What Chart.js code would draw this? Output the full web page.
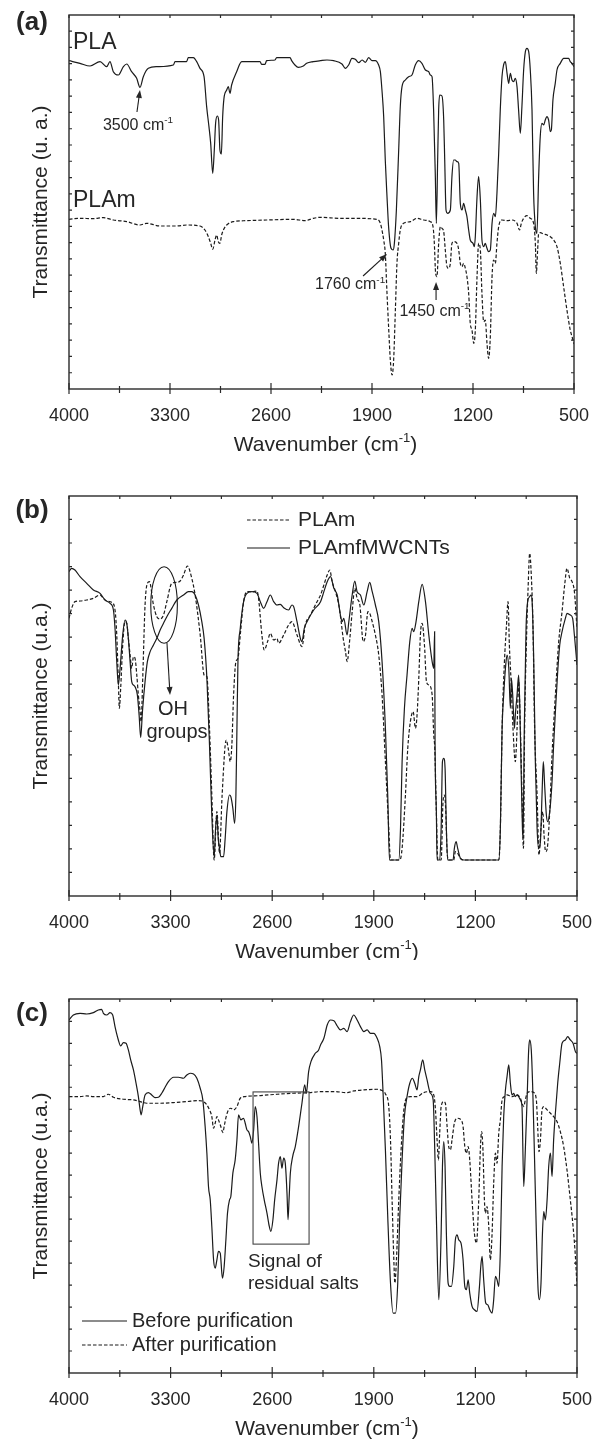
<!DOCTYPE html>
<html>
<head>
<meta charset="utf-8">
<title>FTIR spectra</title>
<script src="https://cdn.jsdelivr.net/npm/chart.js@4.4.0/dist/chart.umd.min.js"></script>
<style>
    html, body { margin: 0; padding: 0; background: #fff; }
    .page { position: relative; width: 601px; height: 1442px; overflow: hidden; }
    .page canvas { position: absolute; left: 0; }
</style>
</head>
<body>
<div class="page">
    <canvas id="panelA" width="601" height="480" style="top:0px"></canvas>
    <canvas id="panelB" width="601" height="480" style="top:480px"></canvas>
    <canvas id="panelC" width="601" height="482" style="top:960px"></canvas>
</div>
<script>
// Axis ticks (wavenumber, cm-1)
const xMajorTicks = [4000, 3300, 2600, 1900, 1200, 500];
const xMinorTicks = [3650, 2950, 2250, 1550, 850];

// Panel (a): [wavenumber, transmittance (a.u.)]
const plaPoints = [[4000,98.5],[3924,97.7],[3854,96.9],[3785,98.2],[3739,96.7],[3716,98.2],[3693,95.2],[3658,94.2],[3623,96.7],[3600,97.5],[3566,95.2],[3531,93.2],[3508,90.5],[3485,93.7],[3450,96.2],[3392,96.7],[3277,97.2],[3265,98.2],[3185,98.2],[3173,99.4],[3138,99.4],[3115,98.2],[3092,96.2],[3064,93.7],[3046,84.7],[3030,78.7],[3018,73.7],[3004,64.7],[2993,71.7],[2984,79.7],[2972,81.9],[2963,80.7],[2954,71.7],[2944,70.5],[2935,81.7],[2926,87.2],[2907,89.7],[2896,90.7],[2884,88.7],[2873,91.2],[2838,95.2],[2803,98.2],[2676,98.2],[2665,97.4],[2642,97.4],[2630,98.5],[2572,98.7],[2561,99.4],[2468,99.4],[2457,98.5],[2434,97.2],[2411,96.5],[2376,96.9],[2353,97.7],[2307,98.2],[2258,98.5],[2212,98.7],[2166,98.5],[2108,97.5],[2085,96.2],[2062,97.2],[2039,99.2],[2016,98.9],[1992,97.9],[1969,98.7],[1946,98.0],[1923,99.4],[1900,98.5],[1877,98.5],[1854,97.2],[1842,95.2],[1831,89.7],[1819,81.7],[1808,68.7],[1796,57.7],[1785,48.7],[1768,42.2],[1754,41.7],[1745,43.7],[1731,53.7],[1715,71.7],[1704,84.7],[1692,90.7],[1669,92.7],[1646,93.7],[1623,94.2],[1600,97.2],[1577,98.5],[1554,97.7],[1530,95.7],[1507,95.2],[1496,94.2],[1484,93.7],[1473,83.7],[1461,63.7],[1454,49.7],[1445,68.7],[1438,83.7],[1431,88.2],[1415,87.9],[1403,80.7],[1396,68.7],[1387,53.7],[1376,52.7],[1357,53.7],[1346,63.7],[1334,68.7],[1323,68.7],[1311,68.2],[1299,67.7],[1288,55.7],[1276,53.7],[1265,55.7],[1253,53.7],[1242,51.7],[1230,47.7],[1219,44.7],[1200,43.7],[1191,42.7],[1184,45.7],[1172,57.7],[1161,63.7],[1149,56.7],[1138,44.7],[1126,42.7],[1115,43.7],[1103,42.2],[1092,41.2],[1080,41.7],[1068,49.7],[1057,52.7],[1045,51.7],[1034,58.7],[1022,70.7],[1011,83.7],[999,93.7],[988,97.2],[976,98.2],[964,94.7],[953,91.7],[941,94.7],[930,92.7],[918,92.2],[907,93.2],[895,90.7],[884,83.7],[872,76.7],[861,84.7],[849,95.7],[837,101.2],[826,102.2],[814,101.2],[803,95.7],[791,83.7],[780,58.7],[768,48.7],[757,46.7],[745,63.7],[734,75.7],[722,79.7],[710,79.2],[699,80.7],[688,81.7],[676,80.7],[664,77.2],[657,77.7],[646,86.7],[630,91.7],[618,95.7],[595,97.7],[572,99.2],[537,99.2],[526,98.2],[514,97.7],[500,96.7]];

const plamPoints = [[4000,50.9],[3924,51.2],[3831,51.1],[3762,51.4],[3693,50.7],[3600,50.2],[3508,49.2],[3462,49.7],[3369,48.9],[3254,48.9],[3185,49.2],[3092,48.9],[3058,47.7],[3034,45.7],[3018,43.7],[3004,41.9],[2988,44.7],[2977,46.2],[2965,44.2],[2954,43.7],[2942,46.2],[2930,47.7],[2907,49.2],[2861,50.2],[2769,50.5],[2630,50.7],[2445,50.9],[2364,50.5],[2307,51.2],[2258,51.5],[2119,51.2],[2027,51.2],[1865,50.9],[1842,49.7],[1831,47.7],[1819,44.7],[1808,40.7],[1796,28.7],[1785,18.7],[1773,8.7],[1761,4.2],[1750,8.7],[1738,23.7],[1727,37.7],[1715,43.7],[1704,47.7],[1681,49.7],[1634,50.2],[1588,51.2],[1542,50.7],[1496,50.2],[1477,48.7],[1468,43.7],[1459,34.7],[1450,33.7],[1438,43.7],[1426,48.7],[1415,48.2],[1403,47.2],[1392,41.7],[1380,36.7],[1369,36.2],[1357,37.7],[1346,43.7],[1334,44.2],[1311,43.7],[1299,41.7],[1288,37.7],[1276,36.7],[1265,37.7],[1253,36.2],[1242,33.7],[1230,28.7],[1219,19.7],[1207,17.7],[1195,13.7],[1184,17.7],[1172,33.7],[1161,43.7],[1149,41.7],[1138,28.7],[1126,20.2],[1115,20.7],[1103,13.7],[1092,9.2],[1080,15.7],[1068,33.7],[1057,38.7],[1045,37.7],[1034,43.7],[1022,48.7],[999,50.7],[964,50.5],[930,50.7],[895,49.7],[877,47.7],[865,49.7],[849,51.2],[826,52.0],[803,51.2],[780,49.7],[768,43.7],[761,34.7],[752,41.7],[745,46.7],[734,46.9],[710,46.5],[687,46.2],[664,45.7],[641,44.7],[618,42.7],[595,37.7],[572,30.7],[549,23.7],[526,17.7],[507,14.7],[500,13.5]];

// Panel (b)
const bPlamPoints = [[4000,83.3],[3982,86.3],[3959,88.3],[3924,88.5],[3878,88.8],[3832,89.3],[3786,90.3],[3763,89.3],[3740,88.5],[3706,88.1],[3683,85.8],[3671,78.3],[3660,64.3],[3653,56.3],[3644,62.3],[3630,75.3],[3614,82.3],[3602,81.8],[3591,77.3],[3579,72.3],[3568,68.3],[3556,71.8],[3545,71.3],[3533,66.3],[3522,60.3],[3510,55.3],[3503,52.3],[3492,65.3],[3476,87.3],[3460,93.8],[3446,94.3],[3418,87.3],[3395,83.8],[3372,83.1],[3349,84.3],[3326,88.3],[3292,93.8],[3257,94.1],[3234,94.5],[3211,96.3],[3184,99.0],[3154,95.3],[3131,90.3],[3096,78.3],[3069,66.3],[3050,65.8],[3032,50.3],[3016,30.3],[3000,10.8],[2981,25.3],[2963,12.8],[2945,30.3],[2917,46.8],[2903,44.3],[2889,40.3],[2878,45.3],[2866,60.3],[2850,70.3],[2836,71.3],[2820,78.3],[2797,88.3],[2774,91.3],[2740,91.3],[2705,91.5],[2694,89.3],[2671,78.3],[2655,73.8],[2632,76.3],[2613,78.8],[2590,76.8],[2567,77.3],[2556,75.8],[2521,78.3],[2487,81.3],[2464,82.3],[2429,78.3],[2395,74.8],[2372,81.3],[2337,84.3],[2291,88.3],[2267,90.3],[2244,93.3],[2221,96.3],[2203,97.8],[2187,94.3],[2164,91.3],[2141,87.3],[2125,82.3],[2111,77.3],[2095,73.3],[2084,70.3],[2065,77.3],[2049,85.3],[2031,92.3],[2015,89.3],[1996,87.3],[1973,76.3],[1957,78.3],[1941,85.3],[1928,84.8],[1911,82.3],[1889,78.3],[1866,72.3],[1843,60.3],[1820,40.3],[1797,20.3],[1785,10.8],[1721,10.8],[1705,14.3],[1682,30.3],[1666,44.3],[1648,52.3],[1629,55.3],[1613,50.3],[1602,54.3],[1590,65.3],[1579,78.3],[1567,81.8],[1551,75.3],[1537,64.3],[1521,63.3],[1498,60.3],[1487,48.3],[1480,44.3],[1469,25.3],[1459,10.8],[1436,10.8],[1423,28.3],[1413,30.3],[1404,25.3],[1395,13.3],[1384,10.8],[1349,10.8],[1338,13.3],[1322,12.8],[1303,11.3],[1280,10.8],[1039,10.8],[1028,20.3],[1016,50.3],[1000,70.3],[987,80.3],[975,88.3],[966,75.3],[954,64.3],[941,50.3],[925,40.3],[913,50.3],[902,64.3],[890,50.3],[879,30.3],[869,14.3],[861,50.3],[849,75.3],[837,92.3],[826,102.8],[815,96.3],[803,80.3],[792,50.3],[775,30.3],[762,12.3],[748,20.3],[736,25.3],[727,18.3],[716,13.3],[702,15.3],[688,25.3],[672,42.3],[649,60.3],[626,76.3],[603,85.3],[585,93.3],[569,98.3],[550,95.3],[534,94.3],[518,91.3],[500,80.3]];

const bCntPoints = [[4000,97.3],[3982,98.3],[3959,97.8],[3924,95.8],[3878,93.8],[3832,91.8],[3786,90.8],[3752,88.8],[3717,87.8],[3694,85.8],[3683,80.3],[3671,70.3],[3660,63.3],[3648,68.3],[3630,78.3],[3614,82.8],[3602,81.8],[3591,77.3],[3579,70.3],[3568,64.3],[3556,63.3],[3545,62.8],[3529,60.3],[3517,54.3],[3506,47.5],[3494,55.3],[3476,64.3],[3460,70.3],[3441,73.3],[3418,75.3],[3395,77.3],[3372,79.8],[3349,81.8],[3326,83.8],[3292,86.3],[3257,88.8],[3211,90.3],[3177,91.3],[3154,91.3],[3131,90.3],[3108,87.3],[3085,82.3],[3069,77.3],[3050,65.3],[3032,45.3],[3016,24.3],[3000,11.8],[2990,20.3],[2981,24.3],[2972,17.3],[2963,14.3],[2954,11.8],[2935,11.8],[2924,17.3],[2912,25.3],[2894,30.3],[2885,29.8],[2871,26.3],[2859,21.8],[2850,30.3],[2843,50.3],[2836,70.3],[2820,80.3],[2797,88.3],[2774,90.8],[2740,91.3],[2705,90.8],[2682,88.3],[2659,86.3],[2636,88.3],[2613,90.3],[2590,88.3],[2567,87.3],[2544,87.5],[2521,86.5],[2487,85.8],[2464,87.3],[2452,86.8],[2429,82.3],[2406,77.3],[2395,76.3],[2379,80.3],[2360,82.3],[2314,85.8],[2267,88.3],[2244,91.3],[2221,94.3],[2198,95.8],[2175,92.3],[2152,90.3],[2130,84.3],[2118,82.3],[2107,83.3],[2084,78.3],[2072,82.3],[2049,90.3],[2031,94.5],[2015,91.3],[1992,90.3],[1969,87.3],[1946,91.3],[1928,94.1],[1911,91.3],[1889,87.3],[1866,82.3],[1843,70.3],[1820,50.3],[1804,30.3],[1792,10.8],[1728,10.8],[1716,20.3],[1705,40.3],[1689,56.3],[1671,66.3],[1652,76.3],[1636,80.3],[1625,79.3],[1609,82.3],[1590,88.3],[1567,93.5],[1544,88.3],[1521,78.3],[1498,70.3],[1487,68.3],[1481,79.3],[1478,46.3],[1469,25.3],[1464,10.8],[1446,10.8],[1436,20.3],[1427,40.3],[1418,41.3],[1409,38.3],[1400,20.3],[1391,10.8],[1354,10.8],[1345,14.3],[1333,16.3],[1322,14.3],[1303,11.3],[1280,10.8],[1039,10.8],[1028,20.3],[1016,50.3],[1005,60.3],[993,68.3],[982,72.3],[970,68.3],[959,56.3],[952,65.3],[943,60.3],[931,50.3],[925,54.3],[913,60.3],[902,66.3],[895,58.3],[886,40.3],[876,20.3],[872,17.3],[863,50.3],[851,80.3],[840,88.3],[826,89.8],[817,90.3],[808,87.3],[798,70.3],[787,40.3],[775,20.3],[764,14.3],[752,16.3],[741,30.3],[732,40.3],[723,33.3],[711,24.3],[702,22.3],[688,25.3],[672,34.3],[661,45.3],[649,55.3],[633,67.3],[619,75.3],[603,79.3],[580,83.3],[569,84.8],[546,84.3],[530,83.3],[518,78.3],[500,69.3]];

// Panel (c)
const beforePoints = [[4000,106.0],[3970,107.5],[3924,108.0],[3878,107.8],[3832,108.2],[3798,109.0],[3775,109.2],[3763,108.0],[3740,107.5],[3717,108.2],[3699,107.5],[3683,104.0],[3660,100.0],[3644,98.2],[3625,99.2],[3607,99.0],[3591,97.0],[3575,94.0],[3556,91.0],[3538,87.0],[3522,83.0],[3510,79.0],[3503,77.5],[3492,80.0],[3476,83.5],[3453,84.2],[3430,83.5],[3407,82.7],[3384,82.8],[3361,84.0],[3338,85.8],[3315,87.5],[3280,88.8],[3246,88.8],[3211,88.5],[3188,89.5],[3165,90.0],[3142,89.8],[3119,88.5],[3096,85.5],[3078,82.0],[3062,74.0],[3050,66.0],[3039,56.0],[3027,52.0],[3016,44.0],[3004,34.0],[2993,31.5],[2981,34.0],[2970,36.5],[2958,36.0],[2947,30.0],[2942,28.5],[2931,32.0],[2919,40.0],[2908,48.0],[2894,52.0],[2885,53.0],[2871,60.0],[2855,64.0],[2843,70.0],[2832,77.5],[2816,76.0],[2797,76.5],[2786,75.0],[2774,73.0],[2763,72.5],[2751,71.0],[2740,69.0],[2728,73.0],[2717,80.0],[2705,77.0],[2694,69.0],[2682,60.0],[2671,56.0],[2655,52.0],[2636,48.0],[2620,44.0],[2609,42.5],[2595,46.0],[2583,52.0],[2567,58.0],[2556,63.0],[2544,65.0],[2533,61.5],[2521,64.5],[2510,63.0],[2498,54.0],[2491,46.0],[2484,52.0],[2475,60.0],[2459,65.0],[2441,68.0],[2418,74.0],[2395,81.0],[2376,86.5],[2365,84.0],[2349,90.5],[2333,93.5],[2303,96.0],[2280,97.0],[2267,98.5],[2244,100.5],[2221,104.5],[2198,106.0],[2175,105.8],[2152,104.2],[2130,103.0],[2107,103.5],[2084,102.5],[2061,105.5],[2038,107.5],[2015,106.0],[1992,104.0],[1969,102.5],[1946,103.0],[1923,102.0],[1900,102.0],[1877,100.5],[1859,98.0],[1847,94.0],[1836,84.0],[1820,67.0],[1804,47.0],[1785,27.0],[1767,18.0],[1750,18.0],[1735,27.0],[1721,47.0],[1705,64.0],[1689,77.0],[1671,83.0],[1652,87.0],[1634,88.5],[1618,87.0],[1602,85.0],[1590,89.0],[1579,91.0],[1563,94.0],[1549,91.0],[1533,88.0],[1510,84.0],[1491,82.0],[1480,67.0],[1469,47.0],[1452,22.0],[1436,42.0],[1427,62.0],[1418,69.5],[1409,62.0],[1400,42.0],[1388,27.0],[1377,26.0],[1365,26.0],[1349,32.0],[1338,40.0],[1326,41.5],[1315,40.0],[1299,39.0],[1285,34.0],[1273,26.0],[1262,25.0],[1250,28.0],[1239,24.0],[1223,20.0],[1207,19.0],[1189,18.5],[1172,26.0],[1163,32.0],[1154,35.0],[1143,28.0],[1129,21.0],[1115,20.5],[1101,19.0],[1085,18.0],[1074,22.0],[1062,29.0],[1051,28.0],[1039,26.0],[1028,37.0],[1016,62.0],[1005,77.0],[993,85.0],[982,89.0],[970,92.5],[959,87.0],[948,83.5],[936,84.0],[925,83.0],[913,83.5],[902,83.0],[890,82.0],[879,80.0],[867,56.0],[856,67.0],[844,82.0],[833,97.0],[826,100.0],[815,97.0],[806,87.0],[794,67.0],[780,42.0],[768,25.0],[759,22.0],[748,27.0],[738,42.0],[729,48.5],[718,46.0],[706,52.0],[695,62.0],[683,66.0],[672,59.0],[661,70.0],[649,78.0],[633,87.0],[619,93.0],[603,99.0],[580,100.0],[564,101.0],[546,100.0],[527,99.0],[511,96.5],[500,96.0]];

const afterPoints = [[4000,83.0],[3924,83.0],[3878,83.2],[3832,83.0],[3763,83.0],[3729,83.7],[3694,82.8],[3625,82.2],[3556,82.0],[3510,81.5],[3464,81.0],[3372,81.0],[3280,81.2],[3188,81.5],[3108,81.8],[3073,81.5],[3050,80.5],[3032,79.0],[3016,77.0],[3004,73.5],[2993,75.0],[2981,77.0],[2970,76.0],[2954,74.0],[2940,72.2],[2929,74.5],[2917,77.0],[2901,79.0],[2885,79.5],[2866,79.0],[2843,80.0],[2820,82.5],[2786,83.0],[2682,83.3],[2567,83.7],[2452,84.0],[2337,84.2],[2267,84.5],[2175,84.5],[2084,84.2],[2038,84.7],[1969,85.0],[1877,85.2],[1843,84.8],[1820,83.8],[1797,80.0],[1785,70.0],[1774,52.0],[1762,34.0],[1755,27.0],[1744,34.0],[1728,52.0],[1712,67.0],[1693,79.0],[1675,82.5],[1648,83.0],[1602,83.0],[1556,84.2],[1510,84.5],[1487,83.5],[1475,79.0],[1464,70.0],[1455,64.0],[1446,72.0],[1436,80.0],[1418,81.5],[1407,81.0],[1395,74.0],[1384,68.0],[1372,67.0],[1361,70.0],[1345,75.0],[1326,76.5],[1303,76.2],[1285,74.0],[1273,68.0],[1262,66.0],[1250,68.0],[1239,64.0],[1223,52.0],[1207,42.0],[1193,39.0],[1177,52.0],[1166,67.0],[1157,72.5],[1148,67.0],[1138,52.0],[1131,48.0],[1120,50.0],[1108,44.0],[1097,34.0],[1085,42.0],[1074,57.0],[1062,66.0],[1051,63.0],[1039,72.0],[1028,76.0],[1016,82.0],[1000,83.0],[982,83.5],[948,83.0],[913,83.5],[890,82.5],[879,81.0],[867,80.0],[856,82.0],[844,84.0],[822,84.5],[798,84.2],[780,82.0],[771,74.0],[762,66.5],[752,70.0],[741,79.0],[729,80.0],[706,79.0],[683,78.0],[661,77.0],[638,75.5],[615,72.5],[592,68.0],[569,61.0],[546,52.0],[527,44.0],[511,35.0],[500,26.0]];

const INK = '#1b1b1b';
const TEXT = '#262626';
const FONT = '"Liberation Sans", Arial, Helvetica, sans-serif';

function font(size, bold) {
    return (bold ? 'bold ' : '') + size + 'px ' + FONT;
}

// Draw text made of normal and superscript pieces
function drawRich(ctx, parts, x, y, size, align) {
    const widths = parts.map(([t, sup]) => {
        ctx.font = font(sup ? size * 0.62 : size);
        return ctx.measureText(t).width;
    });
    const total = widths.reduce((a, b) => a + b, 0);
    let cx = align === 'center' ? x - total / 2 : x;
    ctx.textAlign = 'left';
    ctx.textBaseline = 'alphabetic';
    parts.forEach(([t, sup], i) => {
        ctx.font = font(sup ? size * 0.62 : size);
        ctx.fillText(t, cx, sup ? y - size * 0.42 : y);
        cx += widths[i];
    });
}

function drawArrow(ctx, x1, y1, x2, y2) {
    const ang = Math.atan2(y2 - y1, x2 - x1);
    const len = 8, half = 3;
    const c = Math.cos(ang), s = Math.sin(ang);
    ctx.beginPath();
    ctx.moveTo(x1, y1);
    ctx.lineTo(x2 - c * len * 0.7, y2 - s * len * 0.7);
    ctx.stroke();
    ctx.beginPath();
    ctx.moveTo(x2, y2);
    ctx.lineTo(x2 - c * len + s * half, y2 - s * len - c * half);
    ctx.lineTo(x2 - c * len - s * half, y2 - s * len + c * half);
    ctx.closePath();
    ctx.fill();
}

function legendLine(ctx, x1, x2, y, dashed) {
    ctx.save();
    ctx.lineWidth = 1.2;
    ctx.setLineDash(dashed ? [3.5, 2] : []);
    ctx.beginPath();
    ctx.moveTo(x1, y);
    ctx.lineTo(x2, y);
    ctx.stroke();
    ctx.restore();
}

// Frame, ticks, labels and per-panel annotations
const panelDecor = {
    id: 'panelDecor',
    afterDatasetsDraw(chart, args, opts) {
        const { ctx, chartArea: area, scales: { x, y } } = chart;
        ctx.save();
        ctx.strokeStyle = '#2a2a2a';
        ctx.lineWidth = 1.4;
        ctx.strokeRect(area.left, area.top, area.right - area.left, area.bottom - area.top);

        ctx.lineWidth = 1.2;
        ctx.beginPath();
        xMajorTicks.forEach(v => {
            const px = x.getPixelForValue(v);
            ctx.moveTo(px, area.bottom - 6);
            ctx.lineTo(px, area.bottom + 5);
            ctx.moveTo(px, area.top);
            ctx.lineTo(px, area.top + 3);
        });
        xMinorTicks.forEach(v => {
            const px = x.getPixelForValue(v);
            ctx.moveTo(px, area.bottom - 3);
            ctx.lineTo(px, area.bottom + 4);
            ctx.moveTo(px, area.top);
            ctx.lineTo(px, area.top + 3);
        });
        for (let v = opts.yStep; v < y.max - opts.yStep * 0.3; v += opts.yStep) {
            const py = y.getPixelForValue(v);
            ctx.moveTo(area.left, py);
            ctx.lineTo(area.left + 3, py);
            ctx.moveTo(area.right - 3, py);
            ctx.lineTo(area.right, py);
        }
        ctx.stroke();

        ctx.fillStyle = TEXT;
        ctx.font = font(18);
        ctx.textAlign = 'center';
        ctx.textBaseline = 'alphabetic';
        xMajorTicks.forEach(v => ctx.fillText(String(v), x.getPixelForValue(v), area.bottom + 32));

        drawRich(ctx, [['Wavenumber (cm', false], ['-1', true], [')', false]],
            (area.left + area.right) / 2 + 4, area.bottom + 62, 21, 'center');

        ctx.save();
        ctx.translate(41, (area.top + area.bottom) / 2);
        ctx.rotate(-Math.PI / 2);
        ctx.font = font(21);
        ctx.textAlign = 'center';
        ctx.textBaseline = 'middle';
        ctx.fillText(opts.yTitle, 0, 0);
        ctx.restore();

        ctx.font = font(26, true);
        ctx.textAlign = 'center';
        ctx.textBaseline = 'middle';
        ctx.fillText(opts.letter, 32, opts.letterY);

        ctx.strokeStyle = INK;
        ctx.fillStyle = TEXT;
        if (opts.extras) opts.extras(ctx, x, y);
        ctx.restore();
    }
};

function spectrum(points, dashed) {
    return {
        data: points.map(([wn, t]) => ({ x: wn, y: t })),
        borderColor: INK,
        borderWidth: 1.2,
        borderDash: dashed ? [3.5, 2] : [],
        pointRadius: 0,
        cubicInterpolationMode: 'monotone',
        fill: false
    };
}

function makePanel(id, datasets, yMax, padding, decor) {
    return new Chart(document.getElementById(id), {
        type: 'line',
        data: { datasets },
        options: {
            responsive: false,
            animation: false,
            events: [],
            layout: { padding },
            plugins: {
                legend: { display: false },
                tooltip: { enabled: false },
                panelDecor: decor
            },
            scales: {
                x: { type: 'linear', display: false, min: 500, max: 4000, reverse: true },
                y: { type: 'linear', display: false, min: 0, max: yMax }
            }
        },
        plugins: [panelDecor]
    });
}

// Panel (a)
function initPanelA() {
    makePanel('panelA', [spectrum(plaPoints, false), spectrum(plamPoints, true)], 112.2,
        { left: 69, top: 15, right: 27, bottom: 91 },
        {
            letter: '(a)', letterY: 23, yTitle: 'Transmittance (u. a.)', yStep: 4.88,
            extras(ctx, x, y) {
                ctx.font = font(23);
                ctx.textAlign = 'left';
                ctx.textBaseline = 'alphabetic';
                ctx.fillText('PLA', 73, 49);
                ctx.fillText('PLAm', 73, 207);
                ctx.lineWidth = 1.1;
                drawRich(ctx, [['3500 cm', false], ['-1', true]], x.getPixelForValue(3522), y.getPixelForValue(77.7), 16, 'center');
                drawArrow(ctx, x.getPixelForValue(3529), y.getPixelForValue(83.1), x.getPixelForValue(3508), y.getPixelForValue(89.7));
                drawRich(ctx, [['1760 cm', false], ['-1', true]], x.getPixelForValue(2052), y.getPixelForValue(29.9), 16, 'center');
                drawArrow(ctx, x.getPixelForValue(1962), y.getPixelForValue(33.9), x.getPixelForValue(1796), y.getPixelForValue(40.5));
                drawRich(ctx, [['1450 cm', false], ['-1', true]], x.getPixelForValue(1467), y.getPixelForValue(21.9), 16, 'center');
                drawArrow(ctx, x.getPixelForValue(1456), y.getPixelForValue(26.7), x.getPixelForValue(1456), y.getPixelForValue(32.1));
            }
        });
}

// Panel (b)
function initPanelB() {
    makePanel('panelB', [spectrum(bPlamPoints, true), spectrum(bCntPoints, false)], 120,
        { left: 69, top: 16, right: 24, bottom: 64 },
        {
            letter: '(b)', letterY: 31, yTitle: 'Transmittance (u.a.)', yStep: 7.06,
            extras(ctx, x, y) {
                legendLine(ctx, 247, 290, 40, true);
                legendLine(ctx, 247, 290, 68, false);
                ctx.font = font(21);
                ctx.textAlign = 'left';
                ctx.textBaseline = 'middle';
                ctx.fillText('PLAm', 298, 40);
                ctx.fillText('PLAmfMWCNTs', 298, 68);

                ctx.lineWidth = 1.1;
                ctx.beginPath();
                ctx.ellipse(x.getPixelForValue(3345), y.getPixelForValue(87.3), 13.3, 38.3, 0, 0, Math.PI * 2);
                ctx.stroke();
                drawArrow(ctx, x.getPixelForValue(3325), y.getPixelForValue(75.9), x.getPixelForValue(3304), y.getPixelForValue(60.3));
                ctx.font = font(20);
                ctx.textAlign = 'center';
                ctx.textBaseline = 'alphabetic';
                ctx.fillText('OH', x.getPixelForValue(3283), y.getPixelForValue(54.3));
                ctx.fillText('groups', x.getPixelForValue(3256), y.getPixelForValue(47.4));
            }
        });
}

// Panel (c)
function initPanelC() {
    makePanel('panelC', [spectrum(beforePoints, false), spectrum(afterPoints, true)], 112.3,
        { left: 69, top: 39, right: 24, bottom: 69 },
        {
            letter: '(c)', letterY: 54, yTitle: 'Transmittance (u.a.)', yStep: 6.6,
            extras(ctx, x, y) {
                ctx.lineWidth = 1.1;
                ctx.strokeStyle = '#444';
                const x1 = x.getPixelForValue(2732), x2 = x.getPixelForValue(2346);
                const y1 = y.getPixelForValue(84.4), y2 = y.getPixelForValue(38.7);
                ctx.strokeRect(x1, y1, x2 - x1, y2 - y1);
                ctx.strokeStyle = INK;
                ctx.font = font(19);
                ctx.textAlign = 'left';
                ctx.textBaseline = 'alphabetic';
                ctx.fillText('Signal of', x.getPixelForValue(2767), y.getPixelForValue(31.8));
                ctx.fillText('residual salts', x.getPixelForValue(2767), y.getPixelForValue(25.2));

                legendLine(ctx, 82, 127, 361, false);
                legendLine(ctx, 82, 127, 385, true);
                ctx.font = font(20);
                ctx.textBaseline = 'middle';
                ctx.fillText('Before purification', 132, 361);
                ctx.fillText('After purification', 132, 385);
            }
        });
}

function initializeCharts() {
    initPanelA();
    initPanelB();
    initPanelC();
}

initializeCharts();
</script>
</body>
</html>
